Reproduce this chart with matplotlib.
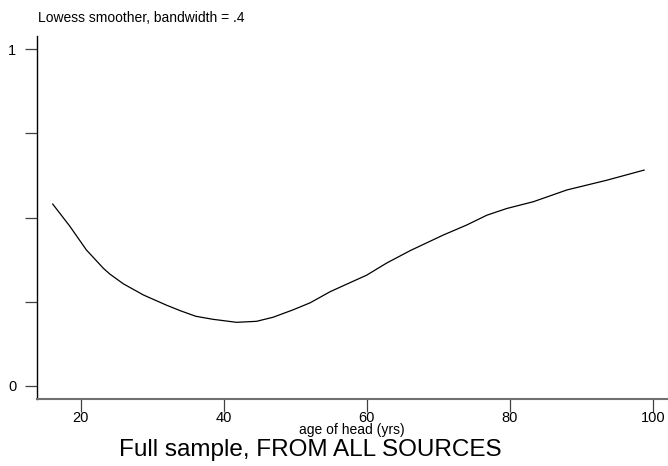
import matplotlib
matplotlib.use("Agg")
import matplotlib.pyplot as plt

plt.rcParams['font.family'] = ['Liberation Sans', 'DejaVu Sans']

age = [16.1, 18.5, 20.8, 23.2, 24.1, 26.0, 28.8, 32.0, 34.0, 36.1, 38.5, 41.8,
       44.6, 46.9, 49.7, 52.1, 54.9, 57.7, 60.0, 62.8, 66.1, 70.7, 74.0, 76.8,
       79.6, 83.3, 88.0, 93.6, 98.8]
share = [0.540, 0.474, 0.404, 0.349, 0.332, 0.303, 0.270, 0.240, 0.223, 0.207,
         0.198, 0.189, 0.192, 0.204, 0.226, 0.247, 0.280, 0.307, 0.329, 0.365,
         0.402, 0.448, 0.478, 0.507, 0.527, 0.547, 0.582, 0.611, 0.641]

xticks = [20, 40, 60, 80, 100]
yticks = [0, 0.25, 0.5, 0.75, 1]
yticklabels = ["0", "", "", "", "1"]

fig = plt.figure(figsize=(6.68, 4.66), dpi=100)
ax = fig.add_axes([0.0554, 0.1438, 0.9431, 0.7789])
ax.plot(age, share, color='black', lw=0.9)

ax.set_xlim(13.9, 102)
ax.set_ylim(-0.0386, 1.039)
ax.set_xticks(xticks)
ax.set_xticklabels([str(t) for t in xticks], fontsize=10.5)
ax.set_yticks(yticks)
ax.set_yticklabels(yticklabels, fontsize=10.5)
for s in ['top', 'right']:
    ax.spines[s].set_visible(False)
ax.spines['left'].set_color('black')
ax.spines['bottom'].set_color('#707070')
ax.spines['left'].set_linewidth(1.0)
ax.spines['bottom'].set_linewidth(1.5)
ax.tick_params(axis='y', length=9, width=0.9, color='#404040', pad=6)
ax.tick_params(axis='x', length=9, width=0.9, color='#404040', pad=-0.5)

ax.set_xlabel("age of head (yrs)", fontsize=10, labelpad=-1)
fig.text(0.057, 0.961, "Lowess smoother, bandwidth = .4", fontsize=10,
         ha='left', va='center')
fig.text(0.464, 0.0215, "Full sample, FROM ALL SOURCES", fontsize=17.5,
         ha='center', va='baseline')

fig.savefig("out.png", dpi=100)
